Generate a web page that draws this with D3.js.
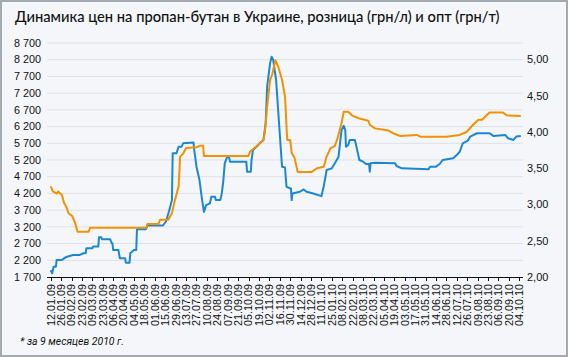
<!DOCTYPE html>
<html><head><meta charset="utf-8">
<script src="https://cdn.jsdelivr.net/npm/d3@7"></script>
<style>body{margin:0;background:#fff}svg{display:block}</style>
</head><body>
<svg id="c" width="570" height="358"></svg>
<script>
const title = "Динамика цен на пропан-бутан в Украине, розница (грн/л) и опт (грн/т)";
const footnote = "* за 9 месяцев 2010 г.";
const leftTicks = [1700,2200,2700,3200,3700,4200,4700,5200,5700,6200,6700,7200,7700,8200,8700];
const rightTicks = [2,2.5,3,3.5,4,4.5,5];
const xTickDates = ["2009-01-12","2009-01-26","2009-02-09","2009-02-23","2009-03-09","2009-03-23","2009-04-06","2009-04-20","2009-05-04","2009-05-18","2009-06-01","2009-06-15","2009-06-29","2009-07-13","2009-07-27","2009-08-10","2009-08-24","2009-09-07","2009-09-21","2009-10-05","2009-10-19","2009-11-02","2009-11-16","2009-11-30","2009-12-14","2009-12-28","2010-01-11","2010-01-25","2010-02-08","2010-02-22","2010-03-08","2010-03-22","2010-04-05","2010-04-19","2010-05-03","2010-05-17","2010-05-31","2010-06-14","2010-06-28","2010-07-12","2010-07-26","2010-08-09","2010-08-23","2010-09-06","2010-09-20","2010-10-04"];

// wholesale, грн/т (left axis)
const optDates = ["2009-01-12","2009-01-14","2009-01-16","2009-01-19","2009-01-20","2009-01-27","2009-02-02","2009-02-11","2009-02-20","2009-02-25","2009-02-28","2009-03-01","2009-03-09","2009-03-10","2009-03-17","2009-03-18","2009-03-21","2009-03-22","2009-04-02","2009-04-04","2009-04-05","2009-04-06","2009-04-13","2009-04-15","2009-04-22","2009-04-23","2009-04-28","2009-04-29","2009-05-04","2009-05-07","2009-05-08","2009-05-20","2009-05-22","2009-06-12","2009-06-16","2009-06-20","2009-06-24","2009-06-25","2009-06-30","2009-07-03","2009-07-07","2009-07-09","2009-07-23","2009-07-24","2009-07-27","2009-07-31","2009-08-03","2009-08-06","2009-08-09","2009-08-14","2009-08-16","2009-08-21","2009-08-22","2009-08-28","2009-08-30","2009-09-01","2009-09-03","2009-09-06","2009-09-09","2009-09-10","2009-10-02","2009-10-03","2009-10-08","2009-10-09","2009-10-11","2009-10-16","2009-10-20","2009-10-25","2009-10-28","2009-10-30","2009-11-03","2009-11-05","2009-11-07","2009-11-11","2009-11-15","2009-11-19","2009-11-23","2009-11-25","2009-11-30","2009-12-01","2009-12-02","2009-12-03","2009-12-13","2009-12-18","2009-12-22","2009-12-31","2010-01-11","2010-01-14","2010-01-18","2010-01-25","2010-01-29","2010-02-03","2010-02-07","2010-02-10","2010-02-12","2010-02-13","2010-02-16","2010-02-18","2010-02-25","2010-02-27","2010-03-03","2010-03-08","2010-03-12","2010-03-16","2010-03-17","2010-03-18","2010-03-24","2010-04-20","2010-04-22","2010-04-29","2010-06-04","2010-06-06","2010-06-14","2010-06-19","2010-06-23","2010-07-07","2010-07-12","2010-07-16","2010-07-20","2010-07-27","2010-07-30","2010-08-08","2010-08-25","2010-08-30","2010-09-15","2010-09-19","2010-09-26","2010-09-30","2010-10-06"];
const optValues = [1900,1810,2010,2010,2210,2210,2300,2360,2360,2410,2410,2560,2560,2610,2610,2890,2890,2830,2830,2710,2710,2510,2510,2260,2260,2130,2130,2410,2510,2510,3130,3130,3240,3240,3360,3660,4000,5400,5400,5600,5600,5700,5720,5500,5000,4600,4100,3650,3850,3900,4100,4100,4000,4000,4200,4550,5100,5280,5280,5150,5150,4850,4850,5200,5500,5600,5700,5800,6300,7400,8100,8290,8200,7600,6300,5000,4980,4400,4350,4350,4000,4200,4250,4320,4250,4200,4120,4400,4900,4950,5100,5300,6100,6220,6100,5600,5650,5800,5800,5600,5200,5150,5080,5080,4850,5100,5120,5100,5020,4950,4920,5000,5000,5080,5200,5250,5350,5450,5700,5780,5900,6000,6000,5920,5950,5850,5800,5900,5920];

// retail, грн/л (right axis)
const retailDates = ["2009-01-12","2009-01-15","2009-01-20","2009-01-22","2009-01-27","2009-01-30","2009-02-02","2009-02-05","2009-02-10","2009-02-14","2009-02-17","2009-03-04","2009-03-06","2009-05-21","2009-05-22","2009-06-06","2009-06-08","2009-06-19","2009-06-24","2009-06-28","2009-07-03","2009-07-05","2009-07-09","2009-07-13","2009-07-27","2009-08-01","2009-08-05","2009-08-06","2009-10-05","2009-10-07","2009-10-14","2009-10-20","2009-10-25","2009-10-27","2009-10-30","2009-11-03","2009-11-06","2009-11-10","2009-11-14","2009-11-19","2009-11-23","2009-11-26","2009-11-30","2009-12-02","2009-12-06","2009-12-10","2009-12-29","2010-01-05","2010-01-14","2010-01-18","2010-01-23","2010-01-29","2010-02-01","2010-02-07","2010-02-10","2010-02-16","2010-02-21","2010-03-02","2010-03-15","2010-03-17","2010-03-24","2010-04-11","2010-04-18","2010-04-27","2010-05-19","2010-05-24","2010-06-28","2010-07-16","2010-07-25","2010-08-03","2010-08-10","2010-08-15","2010-08-21","2010-08-25","2010-09-12","2010-09-17","2010-10-06"];
const retailValues = [3.25,3.18,3.15,3.18,3.13,3.02,2.97,2.88,2.84,2.74,2.625,2.625,2.68,2.68,2.73,2.73,2.79,2.79,2.88,3.06,3.25,3.66,3.70,3.78,3.79,3.81,3.81,3.67,3.67,3.73,3.79,3.84,3.89,4.0,4.35,4.72,4.80,4.99,4.90,4.72,4.49,3.89,3.89,3.71,3.64,3.45,3.45,3.50,3.52,3.66,3.775,3.81,3.89,4.12,4.28,4.28,4.23,4.19,4.156,4.10,4.05,4.02,3.98,3.945,3.96,3.935,3.935,3.96,4.00,4.10,4.17,4.17,4.23,4.27,4.27,4.23,4.22];

const parse = d3.utcParse("%Y-%m-%d");
const svg = d3.select("#c");

// frame
svg.append("rect").attr("x",1).attr("y",1).attr("width",566).attr("height",355)
  .attr("fill","#f4f6fa").attr("stroke","#a3abb0").attr("stroke-width",2);

const x = d3.scaleUtc().domain([parse(xTickDates[0]), parse(xTickDates[xTickDates.length-1])]).range([50.7, 519.3]);
const yL = d3.scaleLinear().domain([1700, 8700]).range([277, 43]);
const yR = d3.scaleLinear().domain([2, 5]).range([277, 59.5]);
const plotL = 47, plotR = 523;

const loc = d3.formatLocale({decimal: ",", thousands: "\u00a0", grouping: [3], currency: ["", ""]});
const fL = loc.format(",d");
const fR = loc.format(".2f");

// gridlines
svg.append("g").selectAll("line").data(leftTicks.slice(1)).join("line")
  .attr("x1", plotL).attr("x2", plotR)
  .attr("y1", d => yL(d)).attr("y2", d => yL(d))
  .attr("stroke", "#dde2e8").attr("stroke-width", 1);

// left labels
svg.append("g").selectAll("text").data(leftTicks).join("text")
  .attr("x", 41).attr("y", d => yL(d)).attr("dy", "0.35em")
  .attr("text-anchor", "end")
  .attr("font-family", "Liberation Sans, Arial, sans-serif").attr("font-size", 10.8).attr("fill", "#111")
  .text(d => fL(d));

// right labels
svg.append("g").selectAll("text").data(rightTicks).join("text")
  .attr("x", 527).attr("y", d => yR(d)).attr("dy", "0.35em")
  .attr("text-anchor", "start")
  .attr("font-family", "Liberation Sans, Arial, sans-serif").attr("font-size", 11).attr("fill", "#111")
  .text(d => fR(d));

// x axis
const xg = svg.append("g");
xg.append("line").attr("x1", plotL).attr("x2", plotR).attr("y1", 277.5).attr("y2", 277.5)
  .attr("stroke", "#111").attr("stroke-width", 1.2);
xg.selectAll("line.t").data(xTickDates).join("line").attr("class","t")
  .attr("x1", d => Math.round(x(parse(d))) + 0.5).attr("x2", d => Math.round(x(parse(d))) + 0.5)
  .attr("y1", 277).attr("y2", 281).attr("stroke", "#111").attr("stroke-width", 1);
xg.selectAll("text").data(xTickDates).join("text")
  .attr("transform", d => `translate(${x(parse(d)) + 3.9},284) rotate(-90)`)
  .attr("text-anchor", "end")
  .attr("font-family", "Liberation Sans, Arial, sans-serif").attr("font-size", 10.8).attr("fill", "#111")
  .text(d => { const t = parse(d); return d3.utcFormat("%d.%m.%y")(t); });

// lines
const optData = optDates.map((d, i) => ({date: parse(d), v: optValues[i]}));
const retailData = retailDates.map((d, i) => ({date: parse(d), v: retailValues[i]}));

svg.append("path").datum(optData)
  .attr("fill", "none").attr("stroke", "#1b87d1").attr("stroke-width", 2).attr("stroke-linejoin", "round")
  .attr("d", d3.line().x(d => x(d.date)).y(d => yL(d.v)));
svg.append("path").datum(retailData)
  .attr("fill", "none").attr("stroke", "#f39200").attr("stroke-width", 2).attr("stroke-linejoin", "round")
  .attr("d", d3.line().x(d => x(d.date)).y(d => yR(d.v)));

// title
const tt = svg.append("text").attr("x", 15).attr("y", 22)
  .attr("font-family", "Lato, 'Noto Sans', sans-serif").attr("font-size", 15).attr("font-weight", 500).attr("fill", "#111")
  .text(title);
const tw = tt.node().getComputedTextLength();
tt.attr("font-size", 15 * 485 / tw);

// footnote
const fn = svg.append("text").attr("x", 20).attr("y", 345)
  .attr("font-family", "Roboto, 'Noto Sans', sans-serif").attr("font-size", 11).attr("font-style", "italic").attr("fill", "#111")
  .text(footnote);
fn.attr("textLength", 104).attr("lengthAdjust", "spacingAndGlyphs");
</script>
</body></html>
